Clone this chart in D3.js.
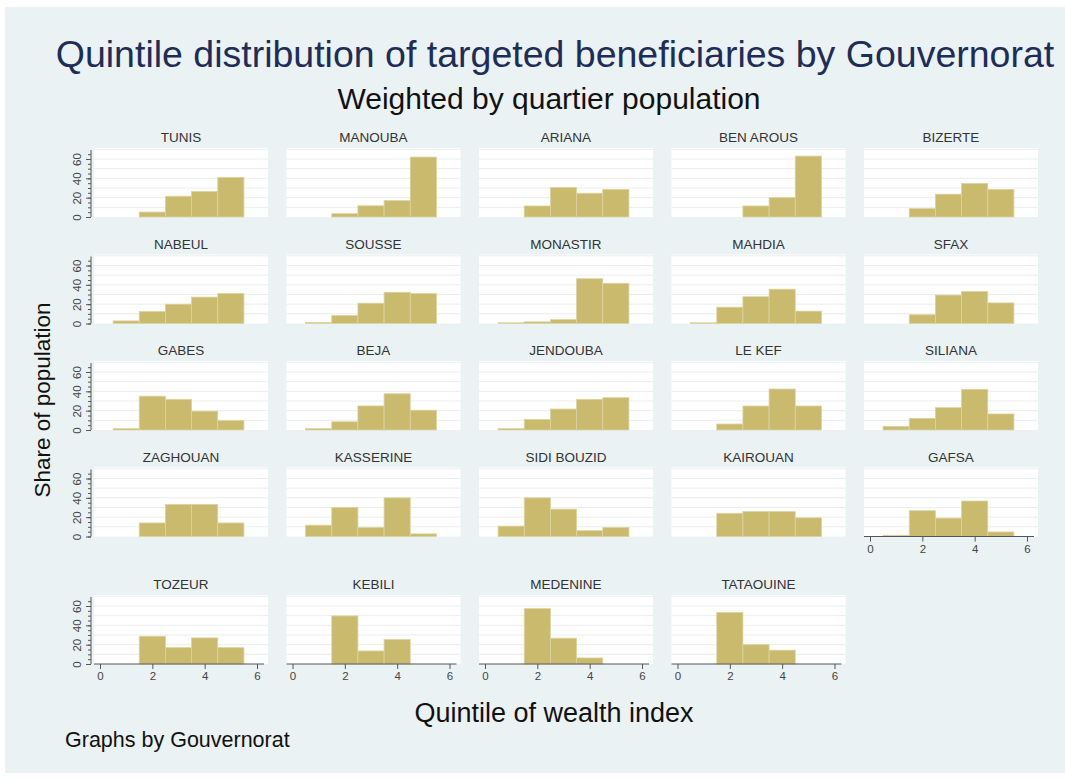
<!DOCTYPE html>
<html>
<head>
<meta charset="utf-8">
<script src="https://cdn.jsdelivr.net/npm/d3@7"></script>
<style>
  body { margin: 0; background: #fff; }
  svg { display: block; font-family: "Liberation Sans", Arial, Helvetica, sans-serif; }
</style>
</head>
<body>
<svg id="chart" width="1065" height="780"></svg>
<script>
// gouvernorats in panel order (row by row)
const gouvernorats = ["TUNIS", "MANOUBA", "ARIANA", "BEN AROUS", "BIZERTE",
  "NABEUL", "SOUSSE", "MONASTIR", "MAHDIA", "SFAX",
  "GABES", "BEJA", "JENDOUBA", "LE KEF", "SILIANA",
  "ZAGHOUAN", "KASSERINE", "SIDI BOUZID", "KAIROUAN", "GAFSA",
  "TOZEUR", "KEBILI", "MEDENINE", "TATAOUINE"];

const quintiles = [1, 2, 3, 4, 5];

// share of population (%) in each wealth quintile, same order as gouvernorats
const q1Share = [0, 0, 0, 0, 0,  2.7, 1, 0.7, 0.7, 0,  1.4, 1.4, 1.4, 0, 3.8,  0, 11.7, 10.7, 0, 1.3,  0, 0, 0, 0];
const q2Share = [5.1, 3.4, 11.4, 0, 8.7,  12.3, 8.3, 1.7, 16.9, 9.1,  35, 8.5, 11, 6.2, 12.1,  14, 30, 40, 24, 26.7,  28.7, 49.7, 57.3, 53.3];
const q3Share = [21.5, 11.6, 30.5, 11.4, 23.6,  20, 21, 4, 27.7, 29.4,  31.7, 24.9, 21.7, 24.8, 23.1,  33.3, 9.3, 28.3, 25.7, 19,  16.9, 13.5, 26.7, 20];
const q4Share = [26.3, 17, 24.6, 20, 34.7,  27.3, 32.3, 46.3, 35.5, 33.1,  19.5, 37.5, 31.7, 42.4, 42.1,  33.3, 40, 6, 25.7, 36.7,  27, 25.3, 6.3, 14.3];
const q5Share = [41, 62, 28.4, 63, 28.4,  31, 31, 41.6, 12.8, 21.3,  9.9, 20.5, 33.4, 24.8, 16.6,  14, 2.7, 9.3, 19.3, 4.7,  16.9, 0, 0, 0];

const xTicks = [0, 2, 4, 6];
const yTicks = [0, 20, 40, 60];

const shares = [q1Share, q2Share, q3Share, q4Share, q5Share];

const svg = d3.select("#chart");

// light blue-grey graph region
svg.append("rect")
  .attr("x", 5).attr("y", 7)
  .attr("width", 1060).attr("height", 766)
  .attr("fill", "#eaf2f3");

// titles
svg.append("text")
  .attr("x", 555).attr("y", 67)
  .attr("text-anchor", "middle")
  .attr("font-size", 37.5)
  .attr("fill", "#1e2d58")
  .text("Quintile distribution of targeted beneficiaries by Gouvernorat");

svg.append("text")
  .attr("x", 549).attr("y", 109)
  .attr("text-anchor", "middle")
  .attr("font-size", 30)
  .attr("fill", "#111")
  .text("Weighted by quartier population");

svg.append("text")
  .attr("transform", "translate(50,400) rotate(-90)")
  .attr("text-anchor", "middle")
  .attr("font-size", 22.5)
  .attr("fill", "#111")
  .text("Share of population");

svg.append("text")
  .attr("x", 554).attr("y", 722)
  .attr("text-anchor", "middle")
  .attr("font-size", 27)
  .attr("fill", "#111")
  .text("Quintile of wealth index");

svg.append("text")
  .attr("x", 65).attr("y", 747)
  .attr("font-size", 21.5)
  .attr("fill", "#111")
  .text("Graphs by Gouvernorat");

// panel layout
const colLeft = [94, 286.5, 479, 671.5, 864];
const rowTop = [148, 254.5, 361, 467.5, 595];
const panelW = 174, panelH = 69;
const nCols = 5;

gouvernorats.forEach((name, i) => {
  const row = Math.floor(i / nCols), col = i % nCols;
  const left = colLeft[col], top = rowTop[row];
  const bottom = top + panelH;

  const x = d3.scaleLinear().domain([0, 6]).range([left + 6, left + 163]);
  const y = d3.scaleLinear().domain([0, 60]).range([bottom, bottom - 58]);

  const g = svg.append("g");

  g.append("rect")
    .attr("x", left).attr("y", top)
    .attr("width", panelW).attr("height", panelH)
    .attr("fill", "#fff");

  // grid lines
  g.selectAll("line.grid")
    .data(d3.range(10, 71, 10))
    .enter().append("line")
    .attr("x1", left).attr("x2", left + panelW)
    .attr("y1", d => y(d)).attr("y2", d => y(d))
    .attr("stroke", "#ebeeee")
    .attr("stroke-width", 1);

  // bars
  const bw = x(1) - x(0);
  g.selectAll("rect.bar")
    .data(quintiles.map((q, k) => ({ q: q, v: shares[k][i] })).filter(d => d.v > 0))
    .enter().append("rect")
    .attr("class", "bar")
    .attr("x", d => x(d.q - 0.5))
    .attr("width", bw)
    .attr("y", d => y(d.v))
    .attr("height", d => y(0) - y(d.v))
    .attr("fill", "#c9ba6e")
    .attr("stroke", "#ddd3a2")
    .attr("stroke-width", 0.8);

  // panel title
  g.append("text")
    .attr("x", left + panelW / 2).attr("y", top - 6)
    .attr("text-anchor", "middle")
    .attr("font-size", 13.5)
    .attr("fill", "#333")
    .text(name);

  // y axis on first column
  if (col === 0) {
    g.append("line")
      .attr("x1", left - 3).attr("x2", left - 3)
      .attr("y1", top + 2).attr("y2", bottom)
      .attr("stroke", "#555");

    const minor = g.append("g")
      .attr("transform", `translate(${left - 3},0)`)
      .call(d3.axisLeft(y).tickValues(d3.range(0, 66, 5)).tickSize(3).tickFormat(""));
    minor.select(".domain").remove();
    minor.selectAll("line").attr("stroke", "#555");

    const major = g.append("g")
      .attr("transform", `translate(${left - 3},0)`)
      .call(d3.axisLeft(y).tickValues(yTicks).tickSize(5).tickFormat(d3.format("d")));
    major.select(".domain").remove();
    major.selectAll("line").attr("stroke", "#555");
    major.selectAll("text")
      .attr("x", 0).attr("dy", 0)
      .attr("transform", "translate(-10,0) rotate(-90)")
      .attr("text-anchor", "middle")
      .attr("font-size", 11.5)
      .attr("font-family", "Liberation Sans, Arial, sans-serif")
      .attr("fill", "#444");
  }

  // x axis on bottom panel of each column
  const below = i + nCols;
  if (below >= gouvernorats.length) {
    g.append("line")
      .attr("x1", left).attr("x2", left + panelW - 4)
      .attr("y1", bottom).attr("y2", bottom)
      .attr("stroke", "#555");

    const xa = g.append("g")
      .attr("transform", `translate(0,${bottom})`)
      .call(d3.axisBottom(x).tickValues(xTicks).tickSize(5).tickPadding(3).tickFormat(d3.format("d")));
    xa.select(".domain").remove();
    xa.selectAll("line").attr("stroke", "#555");
    xa.selectAll("text")
      .attr("font-size", 11.5)
      .attr("font-family", "Liberation Sans, Arial, sans-serif")
      .attr("fill", "#444");
  }
});
</script>
</body>
</html>
